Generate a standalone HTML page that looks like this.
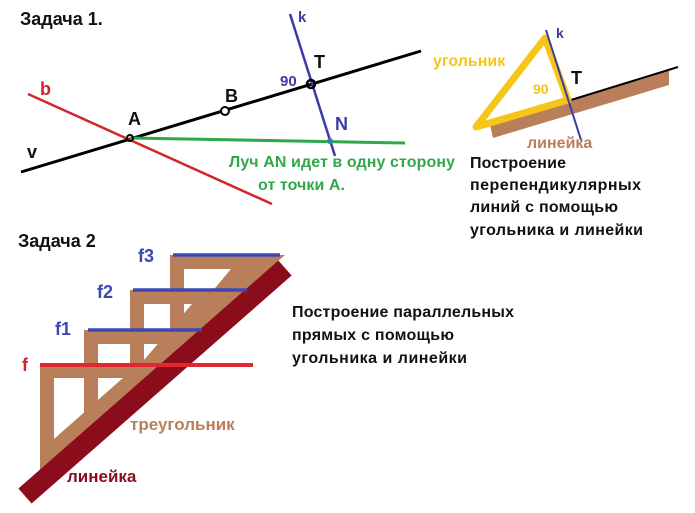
<!DOCTYPE html>
<html><head><meta charset="utf-8"><style>
html,body{margin:0;padding:0;background:#fff}
svg{display:block}
text{font-family:"Liberation Sans","DejaVu Sans",sans-serif;font-weight:bold}
</style></head><body>
<svg width="695" height="513" viewBox="0 0 695 513" xmlns="http://www.w3.org/2000/svg">
<rect width="695" height="513" fill="#fff"/>
<!-- Task 1 -->
<text x="20" y="25" font-size="18" fill="#111">Задача 1.</text>
<line x1="21" y1="172" x2="421" y2="51" stroke="#000" stroke-width="3"/>
<line x1="28" y1="94" x2="272" y2="204" stroke="#d0262c" stroke-width="2.5"/>
<line x1="130" y1="138" x2="405" y2="143" stroke="#2fa84a" stroke-width="3"/>
<line x1="290" y1="14" x2="335" y2="156" stroke="#3b3ba8" stroke-width="2.5"/>
<circle cx="130" cy="138" r="3" fill="none" stroke="#000" stroke-width="2"/>
<circle cx="225" cy="111" r="4" fill="#fff" stroke="#000" stroke-width="2"/>
<circle cx="311" cy="84" r="4" fill="none" stroke="#000" stroke-width="2.5"/>
<circle cx="330" cy="141" r="3" fill="#3b7fa8"/>
<text x="40" y="95" font-size="18" fill="#d0262c">b</text>
<text x="128" y="125" font-size="18" fill="#111">A</text>
<text x="225" y="102" font-size="18" fill="#111">B</text>
<text x="314" y="68" font-size="18" fill="#111">T</text>
<text x="280" y="86" font-size="15" fill="#3b3ba8">90</text>
<text x="298" y="22" font-size="15" fill="#3b3ba8">k</text>
<text x="335" y="130" font-size="18" fill="#3b3ba8">N</text>
<text x="27" y="158" font-size="18" fill="#111">v</text>
<text x="229" y="167" font-size="16" fill="#2fa84a" textLength="226">Луч AN идет в одну сторону</text>
<text x="258" y="190" font-size="16" fill="#2fa84a" textLength="87">от точки А.</text>
<!-- Right panel -->
<polygon points="490,125 669,70 669,85 493,138" fill="#b97e5a"/>
<line x1="490" y1="125" x2="678" y2="67" stroke="#000" stroke-width="2"/>
<polygon points="545,38 568,100 476,127" fill="none" stroke="#f5c518" stroke-width="7" stroke-linejoin="round"/>
<line x1="546" y1="30" x2="581" y2="140" stroke="#3b3ba8" stroke-width="2"/>
<text x="556" y="38" font-size="14" fill="#3b3ba8">k</text>
<text x="571" y="84" font-size="18" fill="#111">T</text>
<text x="533" y="94" font-size="14" fill="#f5c518">90</text>
<text x="433" y="66" font-size="16" fill="#f5c518">угольник</text>
<text x="527" y="148" font-size="16" fill="#b97e5a">линейка</text>
<text x="470" y="168" font-size="16" fill="#111" textLength="96">Построение</text>
<text x="470" y="190" font-size="16" fill="#111" textLength="171">перепендикулярных</text>
<text x="470" y="212" font-size="16" fill="#111" textLength="148">линий с помощью</text>
<text x="470" y="235" font-size="16" fill="#111" textLength="173">угольника и линейки</text>
<!-- Task 2 -->
<text x="18" y="247" font-size="18" fill="#111">Задача 2</text>
<g fill="#b97e5a" fill-rule="evenodd">
<path d="M170,255 L285,255 L170,355 Z M184,269 L231,269 L184,325 Z"/>
<path d="M130,290 L245,290 L130,391 Z M144,304 L192,304 L144,360 Z"/>
<path d="M84,330 L199,330 L84,431 Z M98,344 L162,344 L98,400 Z"/>
<path d="M40,364 L160,364 L40,470 Z M54,378 L123,378 L54,439 Z"/>
</g>
<line x1="25" y1="496" x2="285" y2="268" stroke="#8b0d1c" stroke-width="20"/>
<line x1="173" y1="255" x2="280" y2="255" stroke="#3d48b5" stroke-width="3.5"/>
<line x1="133" y1="290" x2="247" y2="290" stroke="#3d48b5" stroke-width="3.5"/>
<line x1="88" y1="330" x2="202" y2="330" stroke="#3d48b5" stroke-width="3.5"/>
<line x1="40" y1="365" x2="253" y2="365" stroke="#e02830" stroke-width="4"/>
<text x="138" y="262" font-size="18" fill="#3d48b5">f3</text>
<text x="97" y="298" font-size="18" fill="#3d48b5">f2</text>
<text x="55" y="335" font-size="18" fill="#3d48b5">f1</text>
<text x="22" y="371" font-size="18" fill="#d0262c">f</text>
<text x="130" y="430" font-size="17" fill="#b97e5a">треугольник</text>
<text x="67" y="482" font-size="17" fill="#8b0d1c">линейка</text>
<text x="292" y="317" font-size="16" fill="#111" textLength="222">Построение параллельных</text>
<text x="292" y="340" font-size="16" fill="#111" textLength="162">прямых с помощью</text>
<text x="292" y="363" font-size="16" fill="#111" textLength="175">угольника и линейки</text>
</svg>
</body></html>
